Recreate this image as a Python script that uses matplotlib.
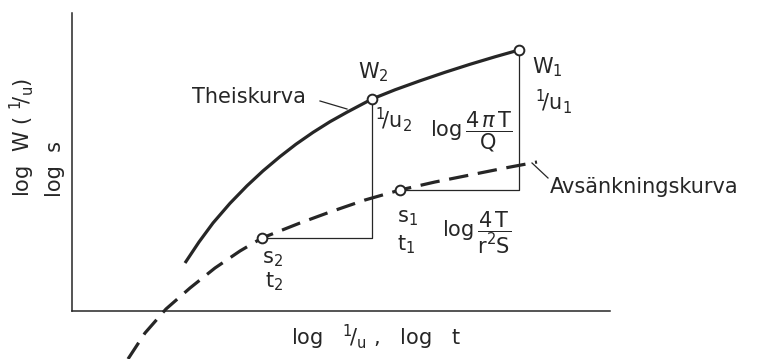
import matplotlib
matplotlib.use("Agg")
import matplotlib.pyplot as plt

plt.rcParams['mathtext.fontset'] = 'dejavusans'
plt.rcParams['font.family'] = ['DejaVu Sans']
plt.rcParams['lines.scale_dashes'] = False

# Theis type curve (log 1/u, log W) in drawing units
theis_x = [185, 199, 213, 230, 247, 263, 280, 296, 313, 330, 347, 372, 395, 420, 445, 470, 495, 519]
theis_y = [96, 117, 136, 155.7, 173.2, 188.1, 202.4, 214.8, 226.6, 237.3, 246.8, 260,
           269.2, 278.2, 286.7, 294.7, 302.2, 309]

# Drawdown curve (log t, log s)
draw_x = [128, 145, 166, 190, 215, 240, 262, 300, 330, 365, 400, 435, 470, 505, 537]
draw_y = [0, 26, 50, 71, 91, 108, 121, 136, 147, 159, 169, 177, 184, 191, 197]

# match points
W1 = (519, 309)
W2 = (372, 260)
S1 = (400, 169)
S2 = (262, 121)

ink = '#262626'

fig = plt.figure(figsize=(7.68, 3.59), dpi=100)
ax = fig.add_axes([72/768, 48/359, (610-72)/768, (346-48)/359])
ax.set_xlim(72, 610)
ax.set_ylim(48, 346)
for s in ['top', 'right']:
    ax.spines[s].set_visible(False)
for s in ['left', 'bottom']:
    ax.spines[s].set_linewidth(1.1)
    ax.spines[s].set_color(ink)
ax.set_xticks([])
ax.set_yticks([])
ax.patch.set_alpha(0)

ax.plot(theis_x, theis_y, color=ink, lw=2.3, clip_on=False,
        solid_capstyle='butt', solid_joinstyle='round')
ax.plot(draw_x, draw_y, color=ink, lw=2.3, dashes=(14, 7), clip_on=False)

# triangles
ax.plot([W2[0], W2[0], S2[0]], [W2[1], S2[1], S2[1]], color=ink, lw=0.9, clip_on=False)
ax.plot([W1[0], W1[0], S1[0]], [W1[1], S1[1], S1[1]], color=ink, lw=0.9, clip_on=False)

for p in (W1, W2, S1, S2):
    ax.plot(p[0], p[1], 'o', ms=7, mfc='white', mec=ink, mew=1.4, clip_on=False, zorder=5)

fs = 15
kw = dict(color=ink, fontsize=fs, clip_on=False)
ax.text(358, 281, r'W$_2$', ha='left', va='baseline', **kw)
ax.text(375, 231, r'${}^{1}\!/\mathrm{u}_2$', ha='left', va='baseline', **kw)
ax.text(430, 227, r'$\mathrm{log}\,\dfrac{4\,\pi\,\mathrm{T}}{\mathrm{Q}}$', ha='left', va='center', **kw)
ax.text(532, 286, r'W$_1$', ha='left', va='baseline', **kw)
ax.text(535, 249, r'${}^{1}\!/\mathrm{u}_1$', ha='left', va='baseline', **kw)
ax.text(192, 256, 'Theiskurva', ha='left', va='baseline', **kw)
ax.text(550, 166, 'Avsänkningskurva', ha='left', va='baseline', **kw)
ax.text(397, 137, r's$_1$', ha='left', va='baseline', **kw)
ax.text(397, 109, r't$_1$', ha='left', va='baseline', **kw)
ax.text(442, 126, r'$\mathrm{log}\,\dfrac{4\,\mathrm{T}}{\mathrm{r}^2\mathrm{S}}$', ha='left', va='center', **kw)
ax.text(262, 96, r's$_2$', ha='left', va='baseline', **kw)
ax.text(265, 72, r't$_2$', ha='left', va='baseline', **kw)

# leaders
ax.plot([320, 347], [258, 250], color=ink, lw=0.9, clip_on=False)
ax.plot([532, 548], [196, 181], color=ink, lw=0.9, clip_on=False)

# axis labels
ax.text(376, 22, r'log   ${}^{1}\!/_{\mathrm{u}}$ ,   log   t', ha='center', va='center', **kw)
ax.text(22, 162, r'log  W ( ${}^{1}\!/_{\mathrm{u}}$)', ha='center', va='bottom', rotation=90, **kw)
ax.text(55, 162, 'log  s', ha='center', va='bottom', rotation=90, **kw)

fig.savefig('out.png', dpi=100)
